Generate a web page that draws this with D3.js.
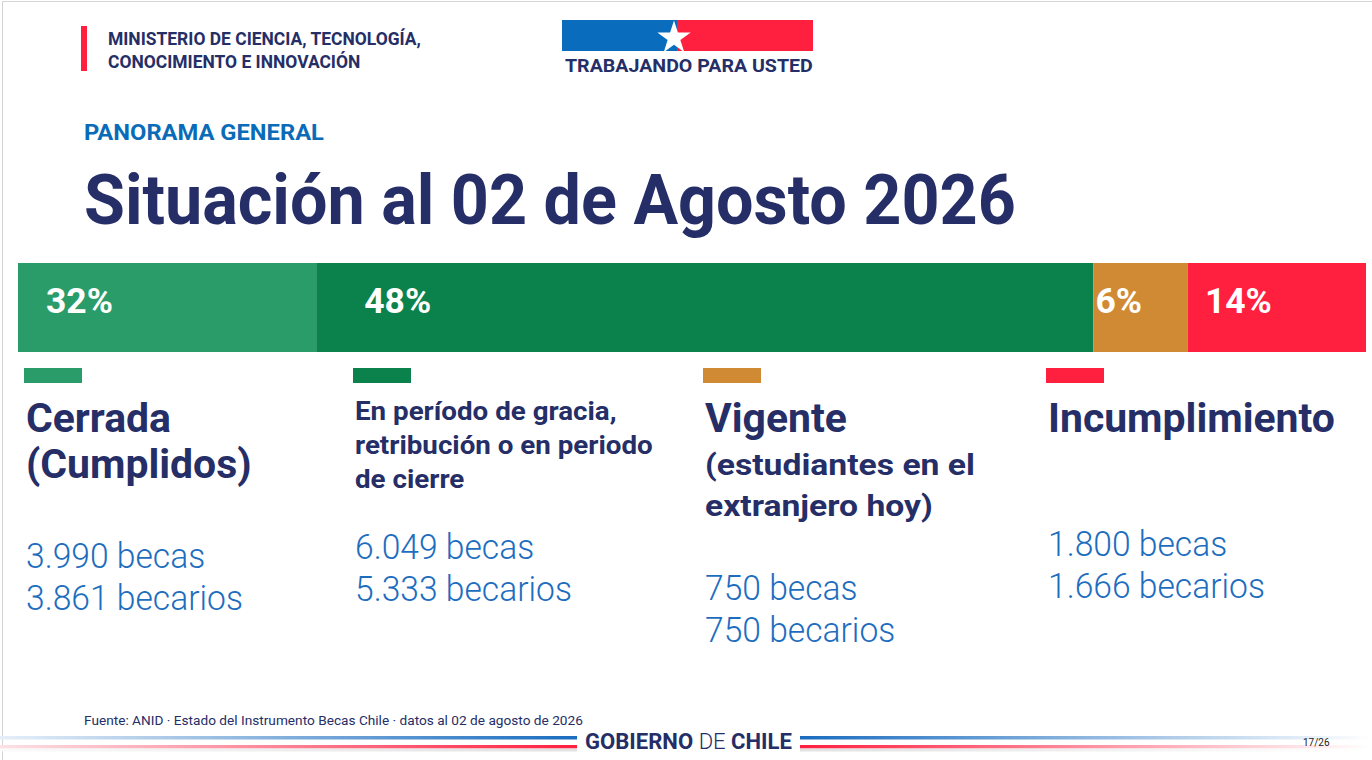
<!DOCTYPE html>
<html lang="es">
<head>
<meta charset="UTF-8">
<script src="https://cdn.jsdelivr.net/npm/d3@7"></script>
<title>Situación al 02 de Agosto 2026</title>
<style>
  body { margin: 0; background: #fff; }
  svg { display: block; font-family: Roboto, "Noto Sans", sans-serif; }
</style>
</head>
<body>
<svg width="1372" height="760"></svg>
<script>
// data
const categories = ["Cerrada", "En período de gracia", "Vigente", "Incumplimiento"];
const headingLines = [
  ["Cerrada", "(Cumplidos)"],
  ["En período de gracia,", "retribución o en periodo", "de cierre"],
  ["Vigente", "(estudiantes en el", "extranjero hoy)"],
  ["Incumplimiento"]
];
const pctLabels = ["32%", "48%", "6%", "14%"];
const barShare = [22.1, 57.6, 7.0, 13.2];   // visible widths of the segments (%)
const becas = [3990, 6049, 750, 1800];
const becarios = [3861, 5333, 750, 1666];
const colors = ["#2a9c69", "#0b814c", "#cf8a33", "#ff1f3f"];

const navy = "#252e66", blue = "#1d6dbf";
const svg = d3.select("svg");
const es = d3.formatLocale({decimal: ",", thousands: ".", grouping: [3], currency: ["$", ""]});
const fmt = es.format(",");

// squeeze text horizontally so Roboto fits the narrower original face
function squeeze(t, k) {
  const x = +t.attr("x");
  t.attr("transform", `translate(${x},0) scale(${k},1) translate(${-x},0)`);
  return t;
}
function fitK(t, w) { return w / t.node().getComputedTextLength(); }
function fit(t, w) { return squeeze(t, fitK(t, w)); }

// page frame
svg.append("path").attr("d", "M2.5,760V1.5H1372").attr("fill", "none").attr("stroke", "#d4d4d4");

// header
svg.append("rect").attr("x", 81).attr("y", 26).attr("width", 6).attr("height", 45).attr("fill", "#ff1f3f");
const min1 = svg.append("text").attr("x", 108).attr("y", 45).attr("font-size", 18).attr("font-weight", 700)
  .attr("fill", navy).text("MINISTERIO DE CIENCIA, TECNOLOGÍA,");
const kMin = fitK(min1, 313);
squeeze(min1, kMin);
squeeze(svg.append("text").attr("x", 108).attr("y", 68).attr("font-size", 18).attr("font-weight", 700)
  .attr("fill", navy).text("CONOCIMIENTO E INNOVACIÓN"), kMin);

// logo
svg.append("rect").attr("x", 562).attr("y", 20).attr("width", 115).attr("height", 31).attr("fill", "#0a6cbd");
svg.append("rect").attr("x", 677).attr("y", 20).attr("width", 136).attr("height", 31).attr("fill", "#ff1f3f");
svg.append("path").attr("d", d3.symbol(d3.symbolStar).size(345)()).attr("fill", "#fff")
  .attr("transform", "translate(674,38)");
fit(svg.append("text").attr("x", 565).attr("y", 72).attr("font-size", 18).attr("font-weight", 700)
  .attr("fill", navy).text("TRABAJANDO PARA USTED"), 248);

// titles
fit(svg.append("text").attr("x", 84).attr("y", 140).attr("font-size", 22).attr("font-weight", 700)
  .attr("fill", "#0a6cb8").text("PANORAMA GENERAL"), 240);
fit(svg.append("text").attr("x", 84).attr("y", 224).attr("font-size", 71).attr("font-weight", 700)
  .attr("fill", navy).text("Situación al 02 de Agosto 2026"), 932);

// stacked bar
const x = d3.scaleLinear().domain([0, d3.sum(barShare)]).range([18, 1366]);
const starts = [0, ...d3.cumsum(barShare)].slice(0, barShare.length);
const labelPad = [28, 48, 2, 17];

svg.append("g").selectAll("rect").data(barShare).join("rect")
  .attr("x", (d, i) => x(starts[i]))
  .attr("y", 263)
  .attr("width", (d, i) => x(starts[i] + d) - x(starts[i]))
  .attr("height", 89)
  .attr("fill", (d, i) => colors[i]);

const pct = svg.append("g").selectAll("text").data(pctLabels).join("text")
  .attr("x", (d, i) => x(starts[i]) + labelPad[i])
  .attr("y", 313)
  .attr("font-size", 35).attr("font-weight", 700).attr("fill", "#fff")
  .text(d => d);
const kPct = fitK(pct.filter((d, i) => i === 0), 67);
pct.each(function () { squeeze(d3.select(this), kPct); });

// legend columns
const colX = [26, 355, 705, 1048];
const headFmt = [
  [[40, 432], [40, 478]],
  [[26, 420], [26, 454], [26, 488]],
  [[40, 432], [29, 475], [29, 516]],
  [[40, 432]]
];
const valueY = [[568, 610], [559, 601], [600, 642], [556, 598]];

svg.append("g").selectAll("rect").data(categories).join("rect")
  .attr("x", (d, i) => colX[i] - 2).attr("y", 368)
  .attr("width", 58).attr("height", 15)
  .attr("fill", (d, i) => colors[i]);

// width factors per text size, measured on one line of each
const probe = (txt, size, weight) => svg.append("text").attr("x", 0).attr("y", -100)
  .attr("font-size", size).attr("font-weight", weight).text(txt);
const kBy = {};
[["Incumplimiento", 40, 700, 287], ["retribución o en periodo", 26, 700, 298],
 ["(estudiantes en el", 29, 700, 270]].forEach(([t, s, w, target]) => {
  const p = probe(t, s, w); kBy[s] = fitK(p, target); p.remove();
});
const pv = probe("3.861 becarios", 36, 300);
const kVal = fitK(pv, 217); pv.remove();

headingLines.forEach((lines, c) => {
  lines.forEach((ln, j) => {
    const [size, y] = headFmt[c][j];
    squeeze(svg.append("text").attr("x", colX[c]).attr("y", y)
      .attr("font-size", size).attr("font-weight", 700).attr("fill", navy).text(ln), kBy[size]);
  });
  [fmt(becas[c]) + " becas", fmt(becarios[c]) + " becarios"].forEach((ln, j) => {
    squeeze(svg.append("text").attr("x", colX[c]).attr("y", valueY[c][j])
      .attr("font-size", 36).attr("font-weight", 300).attr("fill", blue).text(ln), kVal);
  });
});

// footer
fit(svg.append("text").attr("x", 84).attr("y", 725).attr("font-size", 13).attr("fill", navy)
  .text("Fuente: ANID · Estado del Instrumento Becas Chile · datos al 02 de agosto de 2026"), 499);

const defs = svg.append("defs");
function grad(id, x1, x2, from, to) {
  const g = defs.append("linearGradient").attr("id", id).attr("gradientUnits", "userSpaceOnUse")
    .attr("x1", x1).attr("x2", x2).attr("y1", 0).attr("y2", 0);
  g.append("stop").attr("offset", 0).attr("stop-color", from);
  g.append("stop").attr("offset", 1).attr("stop-color", to);
}
grad("bl", 0, 577, "#e6eff8", "#1a6cbf");
grad("rl", 0, 577, "#fbe1e5", "#ff1f3f");
grad("br", 1372, 800, "#ffffff", "#1a6cbf");
grad("rr", 1372, 800, "#ffffff", "#ff1f3f");
grad("gl", 0, 577, "#fafafa", "#e2e2e2");
grad("gr", 1372, 800, "#ffffff", "#e2e2e2");
[[0, 577, "l"], [800, 572, "r"]].forEach(([x0, w, s]) => {
  svg.append("rect").attr("x", x0).attr("y", 736).attr("width", w).attr("height", 3.5).attr("fill", `url(#b${s})`);
  svg.append("rect").attr("x", x0).attr("y", 745).attr("width", w).attr("height", 3.5).attr("fill", `url(#r${s})`);
  svg.append("rect").attr("x", x0).attr("y", 748.5).attr("width", w).attr("height", 3).attr("fill", `url(#g${s})`);
});

const gob = svg.append("text").attr("x", 585).attr("y", 749).attr("font-size", 22).attr("fill", navy);
gob.append("tspan").attr("font-weight", 700).text("GOBIERNO ");
gob.append("tspan").attr("font-weight", 300).text("DE ");
gob.append("tspan").attr("font-weight", 700).text("CHILE");
fit(gob, 207);

svg.append("text").attr("x", 1303).attr("y", 746).attr("font-size", 10).attr("fill", "#222").text("17/26");
</script>
</body>
</html>
